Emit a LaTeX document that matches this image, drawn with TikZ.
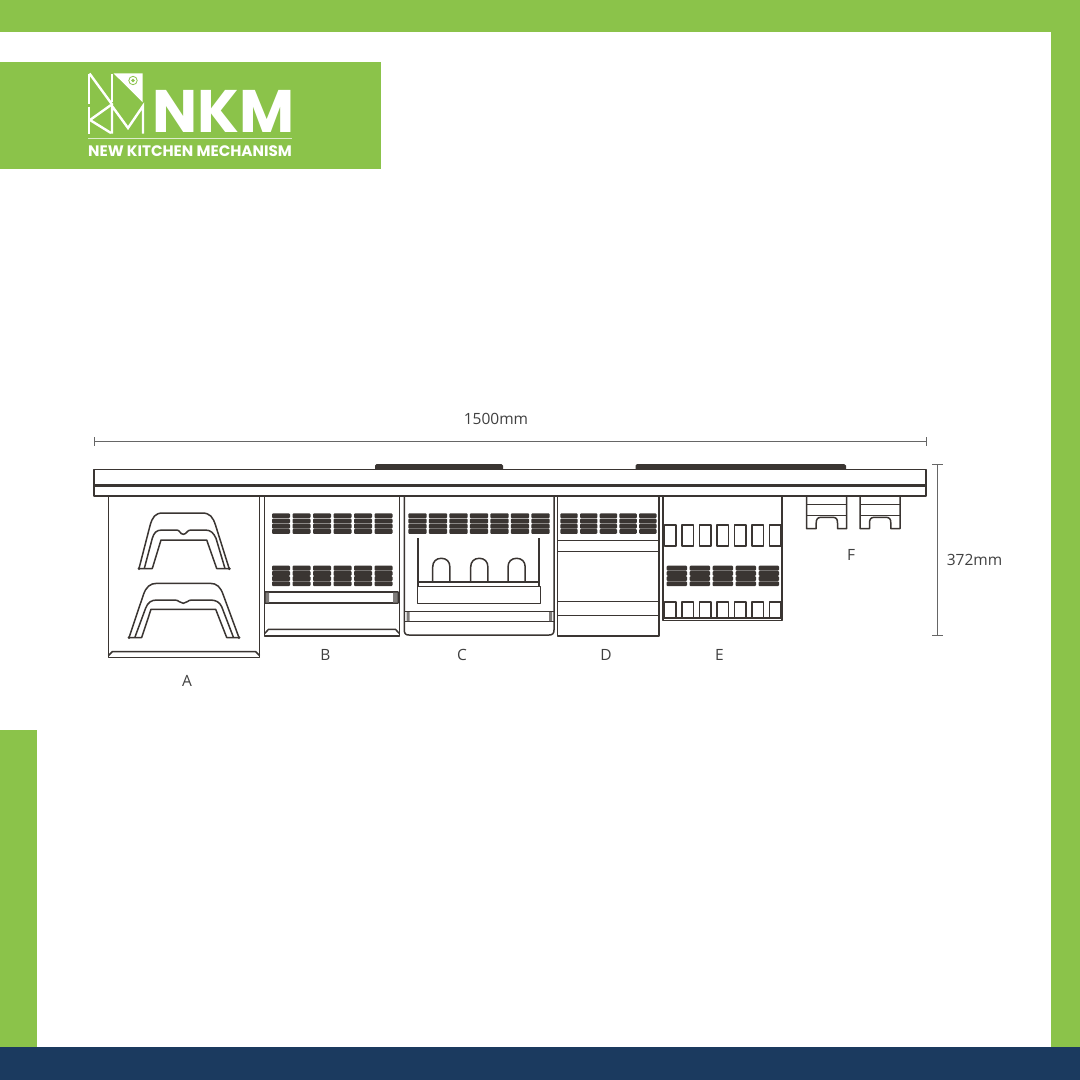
\documentclass[tikz,border=0pt]{standalone}
\usepackage{fontspec}
\setmainfont{Open Sans}
\newfontfamily\logofont{Poppins}
\definecolor{nkmgreen}{HTML}{8BC34A}
\definecolor{nkmnavy}{HTML}{1B3A5F}
\definecolor{inkline}{HTML}{3A3532}
\definecolor{dimline}{HTML}{666666}

\begin{document}
\begin{tikzpicture}[x=1pt,y=-1pt,
    band/.style={fill=nkmgreen,draw=none},
    part line/.style={draw=inkline,line width=1.5pt,line join=round},
    heavy line/.style={draw=inkline,line width=2.2pt},
    slat/.style={fill=inkline,draw=none,rounded corners=1pt},
    dim line/.style={draw=dimline,line width=1pt},
    part label/.style={font=\fontsize{15.5}{15.5}\selectfont,text=black!75,inner sep=0pt},
    logo line/.style={draw=white,line width=2.4pt}]

  \useasboundingbox (0,0) rectangle (1080,1080);
  \fill[white] (0,0) rectangle (1080,1080);

  % frame
  \path[band] (0,0) rectangle (1080,32);
  \path[band] (1051,0) rectangle (1080,1047);
  \path[band] (0,730) rectangle (37,1047);
  \fill[nkmnavy] (0,1047) rectangle (1080,1080);
  \path[band] (0,62) rectangle (381,169);

  % logo
  \draw[logo line] (88.7,73.5) -- (88.7,104) (88.7,106.5) -- (88.7,133.5);
  \draw[logo line] (89.5,73.5) -- (112.5,105);
  \draw[logo line] (111.7,73.5) -- (111.7,102);
  \fill[white] (113.5,73.3) -- (142.5,73.3) -- (142.5,102) -- cycle;
  \draw[nkmgreen,line width=0.8pt] (133,80.5) circle (4.2);
  \fill[nkmgreen] (133,80.5) circle (1.8);
  \draw[logo line] (111,105) -- (90,120) -- (111,133);
  \draw[logo line] (112,133.5) -- (112,106) -- (128,128) -- (143,106) -- (143,133.5);
  \node[text=white,inner sep=0pt,text height=42pt,text depth=0pt,font=\logofont\bfseries\fontsize{60}{60}\selectfont] (nkm) at (223.5,111) {NKM};
  \draw[white!70!nkmgreen,line width=1.2pt] (88,138.5) -- (292,138.5);
  \node[text=white,inner sep=0pt,text height=10pt,text depth=0pt,font=\logofont\bfseries\fontsize{15.2}{16}\selectfont] (nkmname) at (190,151) {NEW KITCHEN MECHANISM};

  % top board
  \fill[inkline] (375,469.5) -- (375,465.5) -- (376.5,464) -- (501.5,464) -- (503,465.5) -- (503,469.5) -- cycle;
  \fill[inkline] (635.5,469.5) -- (635.5,465.5) -- (637,464) -- (844,464) -- (846,465.5) -- (846,469.5) -- cycle;
  \draw[part line] (94,469.5) rectangle (926,496);
  \draw[heavy line] (94,485.5) -- (926,485.5);

  % A
  \draw[part line] (108.5,496) -- (108.5,657.5) -- (259.5,657.5) -- (259.5,496);
  \draw[part line] (108.5,655.5) -- (112.5,651.5) -- (255.5,651.5) -- (259.5,655.5);
  \draw[part line] (139,568.5) -- (150,525.7) .. controls (152.5,517) and (155,513) .. (163,513)
    -- (202,513) .. controls (210,513) and (213,517) .. (215.7,525.7) -- (229.3,569);
  \draw[part line] (144.3,568.5) -- (152.3,538.3) .. controls (154,533) and (156,530) .. (162,530)
    -- (176.7,530) .. controls (180,530) and (180,534.3) .. (183.3,534.3) .. controls (186.5,534.3) and (187,530) .. (190.7,530)
    -- (205,530) .. controls (211,530) and (213.5,533) .. (216,538.3) -- (225,568.5);
  \draw[part line] (139,568.5) -- (152.3,568.5) -- (161,540) -- (206.7,540) -- (216.7,568.5) -- (229.3,568.5);
  \draw[part line] (129,637.7) -- (143.3,595) .. controls (146,587) and (150,583.3) .. (157,583.3)
    -- (210,583.3) .. controls (217,583.3) and (220.5,587) .. (223.3,595) -- (239,637.7);
  \draw[part line] (135,637) -- (145.7,608) .. controls (148,602.5) and (151,600) .. (157,600)
    -- (175,600) .. controls (179,600) and (179.5,603.3) .. (183.3,603.3) .. controls (187,603.3) and (187.5,600) .. (191.7,600)
    -- (210,600) .. controls (216,600) and (219.5,602) .. (221.7,606.7) -- (233.3,637);
  \draw[part line] (129,637.5) -- (141.7,637.5) -- (151,609.3) -- (215.7,609.3) -- (226.7,637.5) -- (239,637.5);
  \fill[inkline] (139,568.7) circle (1.5) (229.3,568.7) circle (1.5) (129,637.7) circle (1.5) (239,637.7) circle (1.5);

  % B
  \draw[part line] (264.7,496) -- (264.7,636) -- (399.3,636) -- (399.3,496);
  \draw[part line] (264.7,633.5) -- (268.5,629.3) -- (395.5,629.3) -- (399.3,633.5);
  \draw[part line] (265,592) rectangle (398,603);
  \fill[inkline!65] (265.5,592.5) rectangle (269,602.5) (393,592.5) rectangle (397.5,602.5);
  \foreach \row in {513.3,565.7}
    \foreach \i in {0,...,5}
      \foreach \k in {0,1,2,3}
        \path[slat] ({272+20.5*\i},{\row+5.2*\k}) rectangle ++(18,4.9);

  % C
  \draw[part line] (404.3,496) -- (404.3,630) .. controls (404.3,633.5) and (405.5,635) .. (409,635)
    -- (549,635) .. controls (552.5,635) and (554,633.5) .. (554,630) -- (554,496);
  \draw[part line] (404.5,611.7) -- (553.8,611.7) (404.5,621.7) -- (553.8,621.7);
  \fill[inkline!65] (406.5,612.2) rectangle (409.5,621.2) (549,612.2) rectangle (552,621.2);
  \foreach \i in {0,...,6}
    \foreach \k in {0,1,2,3}
      \path[slat] ({408.3+20.5*\i},{513.3+5.2*\k}) rectangle ++(18.4,4.9);
  \draw[heavy line] (418.3,538.3) -- (418.3,587) (539.3,538.3) -- (539.3,587);
  \draw[part line] (417.5,586.7) rectangle (540.3,603.3);
  \draw[part line] (418,582) -- (539,582);
  \foreach \archx in {432.7,470.7,508} {
    \begin{scope}[shift={(\archx,0)}]
      \draw[part line] (0,582) -- (0,567) .. controls (0,561.5) and (3.5,558.3) .. (8.6,558.3)
        .. controls (13.7,558.3) and (17.2,561.5) .. (17.2,567) -- (17.2,582);
    \end{scope}
  }

  % D
  \draw[part line] (557.7,496) -- (557.7,636) -- (659,636) -- (659,496);
  \foreach \liney in {540.7,551.3,601.3,615.7}
    \draw[part line] (557.7,\liney) -- (659,\liney);
  \foreach \i in {0,...,4}
    \foreach \k in {0,1,2,3}
      \path[slat] ({560.3+19.7*\i},{513.3+5.2*\k}) rectangle ++(17.4,4.9);

  % E
  \draw[part line] (663,496) -- (663,620.7) -- (782,620.7) -- (782,496);
  \draw[part line] (663,618) -- (782,618);
  \foreach \i in {0,...,6} {
    \draw[part line] ({664.3+17.5*\i},525) rectangle ++(11.7,21);
    \draw[part line] ({664.3+17.5*\i},602) rectangle ++(11.7,15.7);
  }
  \foreach \i in {0,...,4}
    \foreach \k in {0,1,2,3}
      \path[slat] ({666.7+23*\i},{565.7+5.2*\k}) rectangle ++(20.3,4.9);

  % F
  \foreach \hookx in {806.7,860} {
    \begin{scope}[shift={(\hookx,0)}]
      \draw[part line] (0,496) -- (0,528.7) -- (9.5,528.7) -- (9.5,523) .. controls (9.5,519) and (11,517.3) .. (14.5,517.3)
        -- (26,517.3) .. controls (29.5,517.3) and (30.8,519) .. (30.8,523) -- (30.8,528.7) -- (40,528.7) -- (40,496);
      \draw[part line] (0,504.7) -- (40,504.7) (0,515.3) -- (40,515.3);
    \end{scope}
  }

  % dimensions
  \coordinate (w0) at (94,441);
  \coordinate (w1) at (926,441);
  \coordinate (h0) at (937.7,464.3);
  \coordinate (h1) at (937.7,635.3);
  \draw[dim line] (w0) -- (w1);
  \draw[dim line] ([yshift=-4.5pt]w0) -- ([yshift=4.5pt]w0);
  \draw[dim line] ([yshift=-4.5pt]w1) -- ([yshift=4.5pt]w1);
  \draw[dim line] (h0) -- (h1);
  \draw[dim line] ([xshift=-5.5pt]h0) -- ([xshift=5.5pt]h0);
  \draw[dim line] ([xshift=-5.5pt]h1) -- ([xshift=5.5pt]h1);
  \node[part label] (width) at (496,419) {1500mm};
  \node[part label] (height) at (974.5,560) {372mm};

  % part letters
  \node[part label] (a) at (187,681) {A};
  \node[part label] (b) at (325.5,655) {B};
  \node[part label] (c) at (462,655) {C};
  \node[part label] (d) at (606,655) {D};
  \node[part label] (e) at (719.5,655) {E};
  \node[part label] (f) at (851,555) {F};
\end{tikzpicture}
\end{document}
